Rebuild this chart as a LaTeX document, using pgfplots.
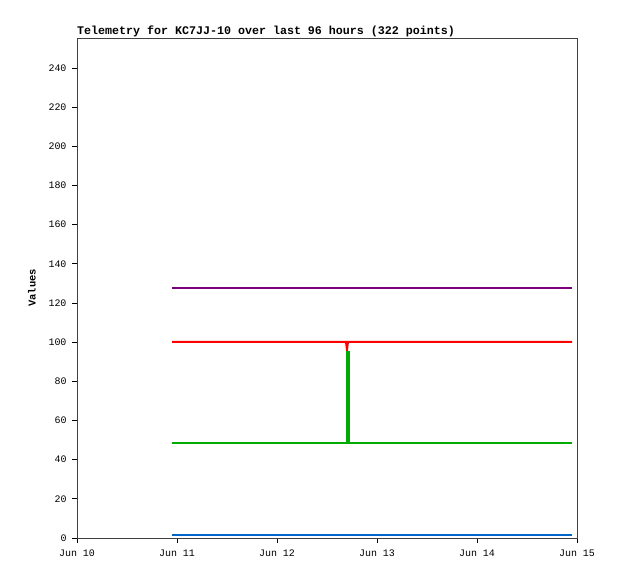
\documentclass[border=0pt]{standalone}
\usepackage{pgfplots}
\pgfplotsset{compat=1.18}
\usepackage{fontspec}
\setmonofont{Liberation Mono}
\definecolor{cpurple}{HTML}{7F007F}
\definecolor{cred}{HTML}{FF0000}
\definecolor{cgreen}{HTML}{00AA00}
\definecolor{cblue}{HTML}{0066CC}
\begin{document}
\begin{tikzpicture}[x=1bp,y=1bp]
\useasboundingbox (0,0) rectangle (618,579);
\begin{axis}[
  at={(77bp,41bp)}, anchor=south west,
  scale only axis, width=500bp, height=500bp,
  xmin=0, xmax=5, ymin=0, ymax=255.3,
  xtick={0,1,2,3,4,5},
  xticklabels={Jun 10,Jun 11,Jun 12,Jun 13,Jun 14,Jun 15},
  ytick={0,20,...,240},
  tick align=outside, major tick length=5bp,
  xtick pos=bottom, ytick pos=left,
  tick style={black, line width=0.8bp},
  axis line style={black!75, line width=0.8bp},
  ticklabel style={font=\ttfamily\fontsize{10}{10}\selectfont},
  /pgf/number format/assume math mode=true,
  yticklabel style={xshift=-2bp},
  xticklabel style={yshift=-3bp},
  ylabel={\ttfamily\bfseries\fontsize{10.5}{11}\selectfont Values},
  ylabel style={at={(axis description cs:-0.09,0.5)}, anchor=center, rotate=0},
  title={\ttfamily\bfseries\fontsize{11.7}{12}\selectfont Telemetry for KC7JJ-10 over last 96 hours (322 points)},
  title style={at={(axis description cs:0,1)}, anchor=south west, inner sep=0pt, yshift=-5bp},
  clip=true,
]
\addplot[cpurple, line width=2bp] coordinates {(0.95,127.8) (4.95,127.8)};
\addplot[cred, line width=2bp] coordinates {(0.95,100.2) (2.69,100.2) (2.70,96) (2.71,100.2) (4.95,100.2)};
\addplot[cgreen, line width=2bp] coordinates {(0.95,48.3) (2.695,48.3) (2.695,95) (2.715,95) (2.715,48.3) (4.95,48.3)};
\addplot[cgreen, line width=4bp] coordinates {(2.705,48.3) (2.705,95)};
\addplot[cblue, line width=2bp] coordinates {(0.95,1.6) (4.95,1.6)};
\end{axis}
\end{tikzpicture}
\end{document}
